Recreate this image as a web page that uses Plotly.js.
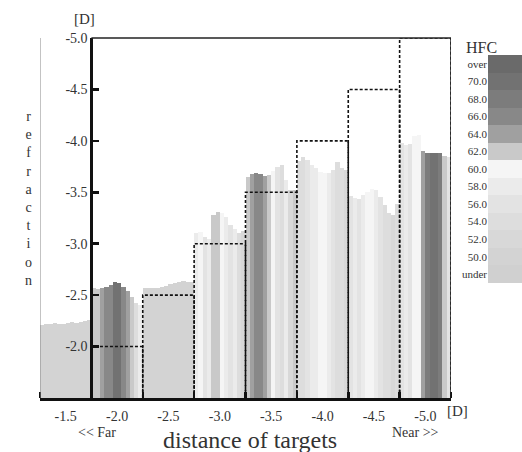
<!DOCTYPE html>
<html><head><meta charset="utf-8">
<script src="https://cdn.plot.ly/plotly-3.0.1.min.js"></script>
<style>html,body{margin:0;padding:0;background:#fff}#chart{width:522px;height:452px}</style>
</head><body><div id="chart"></div>
<script>
// ---- data ----
const targetLabels = ['-1.5','-2.0','-2.5','-3.0','-3.5','-4.0','-4.5','-5.0'];
const targetValues = [-1.5, -2.0, -2.5, -3.0, -3.5, -4.0, -4.5, -5.0];
const yTickValues = [-2.0, -2.5, -3.0, -3.5, -4.0, -4.5, -5.0];
const yTickLabels = ['-2.0','-2.5','-3.0','-3.5','-4.0','-4.5','-5.0'];

// measured refraction per target (12 samples each)
const refr15 = [-2.21,-2.22,-2.22,-2.23,-2.22,-2.22,-2.23,-2.24,-2.23,-2.24,-2.25,-2.26];
const refr20 = [-2.57,-2.56,-2.57,-2.58,-2.60,-2.63,-2.62,-2.58,-2.54,-2.48,-2.42,-2.40];
const refr25 = [-2.57,-2.57,-2.57,-2.57,-2.58,-2.59,-2.61,-2.62,-2.63,-2.64,-2.63,-2.63];
const refr30 = [-3.10,-3.11,-3.07,-3.05,-3.28,-3.31,-3.30,-3.26,-3.18,-3.14,-3.10,-3.12];
const refr35 = [-3.65,-3.68,-3.69,-3.68,-3.66,-3.67,-3.71,-3.75,-3.77,-3.62,-3.52,-3.52];
const refr40 = [-3.80,-3.84,-3.81,-3.77,-3.74,-3.70,-3.69,-3.69,-3.72,-3.79,-3.74,-3.72];
const refr45 = [-3.46,-3.44,-3.43,-3.47,-3.50,-3.53,-3.52,-3.45,-3.38,-3.30,-3.28,-3.39];
const refr50 = [-3.98,-3.96,-3.97,-4.05,-4.06,-3.90,-3.88,-3.88,-3.88,-3.88,-3.85,-3.84];

// HFC per sample
const hfc15 = [50,50,50,50,50,50,50,50,50,50,50,50];
const hfc20 = [62,62,64,66,66,70,70,66,64,62,54,58];
const hfc25 = [50,50,50,50,50,50,50,50,50,50,50,50];
const hfc30 = [58,60,56,58,62,62,60,58,56,58,54,52];
const hfc35 = [62,64,66,66,64,62,60,56,54,58,52,62];
const hfc40 = [54,54,56,58,58,60,60,58,56,54,54,52];
const hfc45 = [56,58,56,58,60,60,58,56,54,54,52,54];
const hfc50 = [56,58,56,60,60,64,68,70,70,68,62,56];

const hfcLabels = ['under','50.0','52.0','54.0','56.0','58.0','60.0','62.0','64.0','66.0','68.0','70.0','over'];
const hfcLevels = [48,50,52,54,56,58,60,62,64,66,68,70,72];
const hfcColors = ['#d0d0d0','#d3d3d3','#d8d8d8','#dddddd','#e3e3e3','#ebebeb','#f5f5f5','#c9c9c9','#a0a0a0','#888888','#7c7c7c','#727272','#6a6a6a'];

// ---- build ----
const refraction = [refr15,refr20,refr25,refr30,refr35,refr40,refr45,refr50];
const hfc = [hfc15,hfc20,hfc25,hfc30,hfc35,hfc40,hfc45,hfc50];
const BASE = targetValues[0];

const bx=[], by=[], bc=[], bw=[];
refraction.forEach((seg,s)=>seg.forEach((v,j)=>{
  bx.push(s+(j+0.5)/seg.length); by.push(v-BASE); bc.push(hfc[s][j]); bw.push(1/seg.length);
}));

const n = hfcColors.length;
const cs = [];
hfcColors.forEach((c,k)=>{cs.push([k/n,c]); cs.push([(k+1)/n,c]);});
const cmin = hfcLevels[0]-1, cmax = hfcLevels[n-1]+1;

const sx=[], sy=[];
for (let s=1;s<targetValues.length;s++){
  sx.push(s,s,s+1,s+1,null);
  sy.push(BASE,targetValues[s],targetValues[s],BASE,null);
}

const centers = targetLabels.map((_,i)=>i+0.5);

const traces = [
  {type:'bar', x:bx, y:by, base:BASE, width:bw,
   marker:{color:bc, colorscale:cs, cmin:cmin, cmax:cmax, line:{width:0}},
   hoverinfo:'skip', showlegend:false},
  {type:'scatter', mode:'lines', x:sx, y:sy, connectgaps:false, cliponaxis:false,
   line:{color:'#111', width:1.6, dash:'3px,2px'}, hoverinfo:'skip', showlegend:false},
  {type:'heatmap', x:[0], y:hfcLabels, z:hfcLevels.map(v=>[v]), zmin:cmin, zmax:cmax,
   colorscale:cs, showscale:false, xaxis:'x2', yaxis:'y2', hoverinfo:'skip'}
];

const W=522,H=452,L=40,R=451,T=38,B=398;
const px=v=>v/W, py=v=>1-v/H;
const ann=(text,x,y,size)=>({text:text,x:px(x),y:py(y),xref:'paper',yref:'paper',showarrow:false,
  xanchor:'center',yanchor:'middle',font:{size:size,color:'#333',family:'Liberation Serif, serif'}});

const layout = {
  width:W, height:H, margin:{l:0,r:0,t:0,b:0},
  paper_bgcolor:'#fff', plot_bgcolor:'#fff',
  font:{family:'Liberation Serif, serif', color:'#333'},
  bargap:0, showlegend:false,
  xaxis:{domain:[px(L),px(R)], range:[0,targetLabels.length], tickmode:'array', tickvals:centers,
    ticktext:targetLabels, ticks:'', showgrid:false, zeroline:false, showline:true,
    linecolor:'#111', linewidth:2.5, tickfont:{size:14,color:'#333'}, ticklabelstandoff:4,
    minor:{tickmode:'linear', tick0:0, dtick:1, ticks:'inside', ticklen:6, tickwidth:2.5, tickcolor:'#111', showgrid:false},
    fixedrange:true},
  yaxis:{domain:[py(B),py(T)], range:[BASE,-5.0], anchor:'free', position:px(L+(R-L)/targetLabels.length),
    tickmode:'array', tickvals:yTickValues, ticktext:yTickLabels, ticks:'inside', ticklen:6,
    tickwidth:2.5, tickcolor:'#111', showline:true, linewidth:2.5, linecolor:'#111',
    showgrid:false, zeroline:false, tickfont:{size:14,color:'#333'}, fixedrange:true},
  xaxis2:{domain:[px(488),1], visible:false, anchor:'y2'},
  yaxis2:{domain:[py(283),py(55)], anchor:'x2', side:'left', ticks:'', showline:false,
    showgrid:false, zeroline:false, type:'category', tickfont:{size:11,color:'#333'}},
  shapes:[
    {type:'line', xref:'x', yref:'y domain', x0:0, x1:0, y0:0, y1:1, line:{color:'#888', width:1}},
    {type:'line', xref:'x', yref:'y domain', x0:1, x1:targetLabels.length, y0:1, y1:1, line:{color:'#222', width:1.5}},
    {type:'line', xref:'x', yref:'y domain', x0:targetLabels.length, x1:targetLabels.length, y0:0, y1:1, line:{color:'#222', width:1.5}}
  ],
  annotations:[
    ann('[D]',85,19,15),
    ann('[D]',457,411,15),
    ann('&lt;&lt; Far',97,432,14),
    ann('Near &gt;&gt;',415,432,14),
    ann('distance of targets',250,440,24),
    ann('r<br>e<br>f<br>r<br>a<br>c<br>t<br>i<br>o<br>n',28,199,14),
    ann('HFC',481,48,16)
  ]
};

Plotly.newPlot('chart', traces, layout, {displayModeBar:false, staticPlot:true});
</script>
</body></html>
